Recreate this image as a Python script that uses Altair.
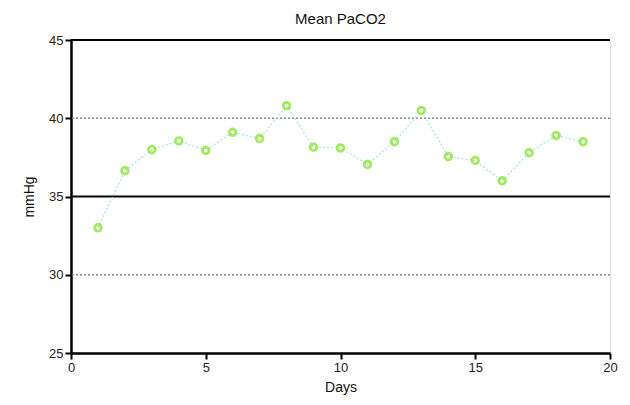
import altair as alt
import pandas as pd

days = list(range(1, 20))
paco2 = [33.0, 36.65, 38.0, 38.55, 37.95, 39.1, 38.7, 40.8, 38.15, 38.1,
         37.05, 38.5, 40.5, 37.55, 37.3, 36.0, 37.8, 38.9, 38.5]

solid_levels = [35, 45]
dotted_levels = [30, 40]

df = pd.DataFrame({"Days": days, "mmHg": paco2})
solid_df = pd.DataFrame({"y": solid_levels})
dotted_df = pd.DataFrame({"y": dotted_levels})

x_scale = alt.Scale(domain=[0, 20], nice=False, zero=False)
y_scale = alt.Scale(domain=[25, 45], nice=False, zero=False)

axis_common = dict(
    domainColor="black", domainWidth=2.5, tickColor="black", tickWidth=2,
    tickSize=6, labelColor="#222", labelFont="Liberation Sans", labelFontSize=13,
    labelFlush=False,
    titleFont="Liberation Sans", titleFontSize=14, titleFontWeight="normal",
    titleColor="#111", grid=False,
)

base = alt.Chart(df)

line = base.mark_line(color="#a6e3ee", strokeWidth=1.2, strokeDash=[2, 2]).encode(
    x=alt.X("Days:Q", scale=x_scale,
            axis=alt.Axis(values=[0, 5, 10, 15, 20], title="Days", titlePadding=6, **axis_common)),
    y=alt.Y("mmHg:Q", scale=y_scale,
            axis=alt.Axis(values=[25, 30, 35, 40, 45], title="mmHg", titlePadding=12, **axis_common)),
)

points = base.mark_point(shape="circle", filled=False, color="#7fe01c", strokeWidth=2.8, size=45).encode(
    x=alt.X("Days:Q", scale=x_scale),
    y=alt.Y("mmHg:Q", scale=y_scale),
)

solid = alt.Chart(solid_df).mark_rule(color="black", strokeWidth=2).encode(
    y=alt.Y("y:Q", scale=y_scale)
)
dotted = alt.Chart(dotted_df).mark_rule(color="#888", strokeWidth=1.3, strokeDash=[2, 2]).encode(
    y=alt.Y("y:Q", scale=y_scale)
)

chart = alt.layer(dotted, solid, line, points).properties(
    width=539, height=313,
    title=alt.Title("Mean PaCO2", font="Liberation Sans", fontSize=15, fontWeight="normal",
                    color="#111", anchor="middle", offset=7),
    autosize=alt.AutoSizeParams(type="none"),
    padding={"left": 63, "top": 32, "right": 10, "bottom": 44},
).configure_view(stroke=None).configure(background="white")

chart.save("out.html", embed_options={"renderer": "svg", "actions": False})
